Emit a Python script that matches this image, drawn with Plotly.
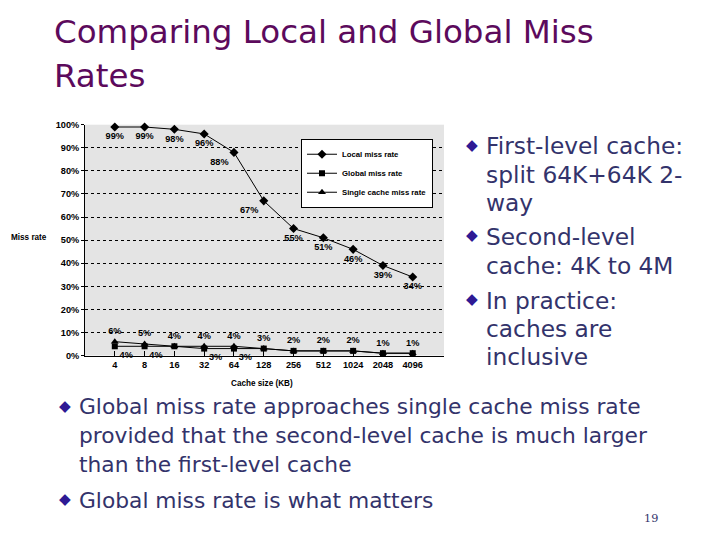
import plotly.graph_objects as go

W, H = 720, 540
S = 720 / 736

cache_sizes = ["4", "8", "16", "32", "64", "128", "256", "512", "1024", "2048", "4096"]
local_miss = [99, 99, 98, 96, 88, 67, 55, 51, 46, 39, 34]
global_miss = [4, 4, 4, 3, 3, 3, 2, 2, 2, 1, 1]
single_miss = [6, 5, 4, 4, 4, 3, 2, 2, 2, 1, 1]

local_pos = ["bottom center"] * 4 + ["bottom left", "bottom left"] + ["bottom center"] * 5
global_text = [f"{g}%" if g != s else "" for g, s in zip(global_miss, single_miss)]

title_lines = ["Comparing Local and Global Miss", "Rates"]
title_y = [33, 76]
right_lines = [("First-level cache:", True), ("split 64K+64K 2-", False), ("way", False),
               ("Second-level", True), ("cache: 4K to 4M", False),
               ("In practice:", True), ("caches are", False), ("inclusive", False)]
right_y = [146, 175, 203, 236, 265, 300, 328, 356]
bottom_lines = [("Global miss rate approaches single cache miss rate", True),
                ("provided that the second-level cache is much larger", False),
                ("than the first-level cache", False),
                ("Global miss rate is what matters", True)]
bottom_y = [406, 435, 464, 499]

TXT = "#33336b"
BUL = "#2e1a94"
BODY_FONT = "DejaVu Sans"
CH = "Liberation Sans"

def fs(s):
    return s / S

def px(x):
    return (x - 8) / W

def pxt(x):
    return (x - 11) / W

def py(y):
    return 1 - ((y - 13.7) / 0.978) / H

fig = go.Figure()
lblfont = dict(family=CH, size=fs(9), color="black", weight="bold")
fig.add_trace(go.Scatter(
    x=cache_sizes, y=local_miss, name="Local miss rate", mode="lines+markers+text",
    line=dict(color="black", width=1), marker=dict(symbol="diamond", size=7, color="black"),
    text=[f"{v}%" for v in local_miss], textposition=local_pos,
    textfont=lblfont, cliponaxis=False))
fig.add_trace(go.Scatter(
    x=cache_sizes, y=global_miss, name="Global miss rate", mode="lines+markers+text",
    line=dict(color="black", width=1), marker=dict(symbol="square", size=6, color="black"),
    text=global_text, textposition="bottom right",
    textfont=lblfont, cliponaxis=False))
fig.add_trace(go.Scatter(
    x=cache_sizes, y=single_miss, name="Single cache miss rate", mode="lines+markers+text",
    line=dict(color="black", width=1), marker=dict(symbol="triangle-up", size=7, color="black"),
    text=[f"{v}%" for v in single_miss], textposition="top center",
    textfont=lblfont, cliponaxis=False))

fig.update_layout(
    width=W, height=H, margin=dict(l=0, r=0, t=0, b=0),
    paper_bgcolor="white", plot_bgcolor="#e4e4e4",
    font=dict(family=CH, size=fs(9), color="black"),
    xaxis=dict(type="category", domain=[px(85), px(444)], range=[-1, 11.05],
               showline=True, linecolor="black", linewidth=1, showgrid=False,
               ticks="inside", ticklen=5, tickcolor="black",
               tickfont=lblfont, zeroline=False),
    yaxis=dict(domain=[py(355), py(125)], range=[0, 100], dtick=10, ticksuffix="%",
               showline=True, linecolor="black", linewidth=1,
               showgrid=True, gridcolor="black", gridwidth=1, griddash="dot",
               ticks="outside", ticklen=3, tickcolor="black", zeroline=False,
               tickfont=lblfont),
    legend=dict(x=px(301), y=py(139), xanchor="left", yanchor="top",
                bgcolor="white", bordercolor="black", borderwidth=1,
                font=dict(family=CH, size=fs(7.6), color="black", weight="bold"),
                tracegroupgap=0, itemwidth=30),
    showlegend=True,
)

ann = []
ann.append(dict(text="Miss rate", x=pxt(12), y=py(237), xanchor="left", yanchor="middle",
                font=dict(family=CH, size=fs(8), color="black", weight="bold")))
ann.append(dict(text="Cache size (KB)", x=px(262), y=py(383), xanchor="center", yanchor="middle",
                font=dict(family=CH, size=fs(8), color="black", weight="bold")))
for t, y in zip(title_lines, title_y):
    ann.append(dict(text=t, x=pxt(55), y=py(y), xanchor="left", yanchor="middle",
                    font=dict(family=BODY_FONT, size=fs(31.8), color="#5c0a5c")))
for (t, b), y in zip(right_lines, right_y):
    ann.append(dict(text=t, x=pxt(487), y=py(y), xanchor="left", yanchor="middle",
                    font=dict(family=BODY_FONT, size=fs(22.8), color=TXT)))
    if b:
        ann.append(dict(text="◆", x=px(472), y=py(y - 1), xanchor="center", yanchor="middle",
                        font=dict(family="DejaVu Sans", size=fs(15), color=BUL)))
for (t, b), y in zip(bottom_lines, bottom_y):
    ann.append(dict(text=t, x=pxt(80), y=py(y), xanchor="left", yanchor="middle",
                    font=dict(family=BODY_FONT, size=fs(21.3), color=TXT)))
    if b:
        ann.append(dict(text="◆", x=px(65), y=py(y - 1), xanchor="center", yanchor="middle",
                        font=dict(family="DejaVu Sans", size=fs(15), color=BUL)))
ann.append(dict(text="19", x=px(651), y=py(517), xanchor="center", yanchor="middle",
                font=dict(family="DejaVu Serif", size=fs(11), color=TXT)))
for a in ann:
    a.update(xref="paper", yref="paper", showarrow=False)
fig.update_layout(annotations=ann)

fig.write_html("out.html")
